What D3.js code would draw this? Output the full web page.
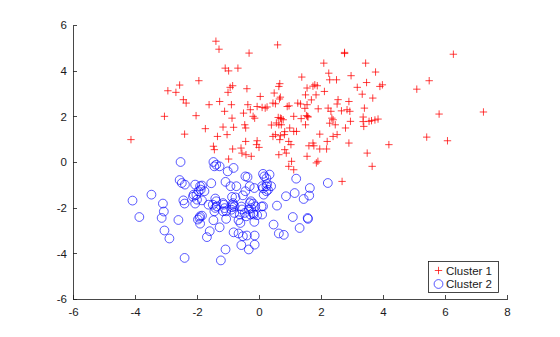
<!DOCTYPE html>
<html>
<head>
<meta charset="utf-8">
<script src="https://cdn.jsdelivr.net/npm/d3@7"></script>
<style>
  html, body { margin: 0; padding: 0; background: #fff; }
  svg { display: block; font-family: "Liberation Sans", Arial, Helvetica, sans-serif; }
  .axis text { font-size: 11.5px; fill: #1a1a1a; }
  .axis path, .axis line { stroke: #1a1a1a; stroke-width: 0.8; shape-rendering: crispEdges; }
</style>
</head>
<body>
<svg id="chart" width="560" height="337"></svg>
<script>
// Cluster 1 (red plus markers)
const cluster1X = [
  -4.13,-3.05,-2.94,-2.68,-2.56,-2.44,-2.35,-2.40,-2.03,-1.94,-1.73,-1.61,-1.39,-1.29,-1.47,-1.44,-1.34,-1.27,-1.16,-1.11,
  -1.09,-1.00,-0.98,-1.03,-0.98,-0.93,-0.89,-0.87,-0.85,-0.82,-0.85,-0.68,-0.58,-0.55,-0.50,-0.46,-0.43,-0.43,-0.42,-0.39,
  -0.36,-0.32,-0.28,-0.25,-0.19,-0.14,-0.06,0.00,0.04,-0.06,0.10,0.20,0.26,0.45,0.53,0.49,0.60,0.64,0.67,0.69,
  0.66,0.69,0.64,0.56,0.72,0.78,0.45,0.53,0.69,0.82,0.64,0.88,0.91,0.97,0.99,0.96,1.03,1.12,1.12,1.21,
  0.96,1.05,1.12,1.25,1.34,1.38,1.36,1.50,1.55,1.55,1.53,1.57,1.50,1.61,1.55,1.77,1.80,1.88,1.84,1.91,
  1.96,1.85,1.90,1.96,2.09,2.11,2.18,2.20,2.23,2.25,2.28,2.32,2.35,2.39,2.46,2.50,2.52,2.55,2.52,2.68,
  2.76,2.79,2.84,2.90,2.93,2.95,2.97,2.90,3.17,3.33,3.40,3.44,3.47,3.36,3.38,3.49,3.55,3.65,3.67,3.76,
  3.84,3.90,3.98,4.19,5.09,5.41,5.49,5.81,6.08,6.27,7.24,
  0.40,0.83,0.67,-0.08,0.83,1.74,1.69,1.48,2.66,2.28,3.63,3.74,3.36,2.39,1.74,2.76,0.72,0.62,1.58
];
const cluster1Y = [
  0.98,2.00,3.12,3.05,3.37,2.73,2.58,1.22,2.03,3.56,1.46,2.51,5.29,4.94,0.69,0.54,1.12,2.65,1.53,2.22,
  4.11,3.05,3.99,1.20,0.13,3.27,2.51,1.92,3.34,1.52,0.57,4.11,0.61,0.39,2.14,1.63,1.49,0.90,0.32,3.21,
  2.51,4.77,2.29,0.25,2.00,1.92,0.93,0.64,2.87,2.43,2.39,2.36,2.41,2.58,2.55,3.02,5.13,3.31,3.43,2.84,
  2.76,1.92,1.63,1.71,1.63,1.85,1.12,1.20,1.15,1.20,0.32,0.39,2.43,2.46,1.49,0.90,0.76,2.00,1.34,1.34,
  -0.19,0.03,-0.34,2.58,2.54,3.72,1.90,2.94,3.24,2.51,2.03,2.00,1.63,0.71,0.25,0.71,3.38,3.34,2.94,2.33,
  1.22,-0.04,0.03,0.57,4.33,3.09,0.57,0.90,2.36,3.89,3.60,2.22,1.92,1.85,1.63,3.60,2.54,2.73,1.20,-0.85,
  4.80,1.49,2.29,2.65,2.22,1.78,3.78,0.83,3.27,2.97,2.36,4.33,3.48,1.97,1.56,0.39,1.78,-0.19,2.80,3.94,
  1.88,3.31,3.38,0.76,3.19,1.09,3.56,2.10,0.93,4.72,2.19,
  1.62,1.33,0.98,0.76,0.54,3.32,2.72,2.35,2.24,1.70,1.81,1.84,1.77,1.12,0.83,4.75,1.90,1.95,1.97
];

// Cluster 2 (blue circle markers)
const cluster2X = [
  -4.08,-3.86,-3.47,-3.10,-3.07,-3.14,-3.05,-2.89,-2.60,-2.53,-2.56,-2.49,-2.39,-2.44,-2.40,-2.40,-2.11,-2.06,-2.06,-2.00,
  -1.95,-1.90,-1.88,-1.84,-1.76,-1.90,-1.92,-1.84,-1.90,-1.84,-1.68,-1.59,-1.63,-1.54,-1.47,-1.44,-1.38,-1.27,-1.41,-1.44,
  -1.41,-1.36,-1.47,-1.27,-1.23,-1.14,-1.08,-1.06,-1.06,-1.08,-1.01,-0.92,-0.87,-0.84,-0.87,-0.82,-0.82,-0.76,-0.73,-0.80,
  -0.66,-0.66,-0.60,-0.57,-0.55,-0.52,-0.44,-0.44,-0.37,-0.41,-0.39,-0.33,-0.33,-0.30,-0.28,-0.26,-0.19,-0.15,-0.14,-0.14,
  -0.15,-0.17,-0.06,-0.12,0.10,0.13,0.10,0.13,0.17,0.15,0.24,0.26,0.24,0.34,0.39,0.47,0.58,0.64,0.80,0.87,
  1.09,1.15,1.20,1.31,1.44,1.57,1.58,1.62,1.64,2.22,
  -2.02,-2.13,-1.38,-1.49,-1.16,-1.11,-1.16,-0.84,-0.79,-0.89,-0.57,-0.46,-0.62,-0.30,-0.25,-0.19,-0.52,-1.97,0.13,0.08,
  0.29,0.24
];
const cluster2Y = [
  -1.69,-2.41,-1.43,-1.82,-2.17,-2.45,-3.00,-3.35,-2.54,0.00,-0.79,-0.92,-0.99,-1.68,-1.82,-4.20,-1.43,-0.99,-1.82,-1.65,
  -1.28,-1.06,-1.21,-1.03,-1.28,-2.38,-2.45,-2.35,-2.70,-1.68,-3.29,-3.03,-1.87,-0.93,0.00,-0.19,-0.12,-0.19,-1.60,-2.16,
  -2.01,-1.94,-2.55,-2.86,-4.31,-1.87,-0.87,-2.16,-2.49,-3.83,-0.41,-1.06,-1.53,-1.87,-1.98,-0.26,-3.08,-1.55,-1.06,-2.23,
  -2.55,-3.13,-2.67,-3.64,-2.08,-1.46,-1.28,-0.63,-0.66,-2.38,-3.22,-3.83,-2.08,-1.06,-2.30,-1.72,-1.82,-1.14,-3.22,-3.62,
  -2.62,-2.30,-2.33,-1.94,-2.30,-1.94,-1.06,-0.52,-0.63,-1.43,-1.28,-0.96,-1.06,-0.55,-1.06,-2.74,-1.91,-3.13,-3.19,-1.50,
  -2.41,-1.36,-0.73,-2.89,-1.62,-2.45,-2.49,-1.47,-1.14,-0.92,
  -1.44,-1.52,-1.72,-1.87,-1.80,-2.02,-2.16,-1.80,-1.95,-2.09,-1.95,-2.23,-2.30,-1.80,-2.02,-2.23,-3.25,-2.52,-1.15,-1.95,
  -1.22,-0.71
];

const xTicks = [-6, -4, -2, 0, 2, 4, 6, 8];
const yTicks = [-6, -4, -2, 0, 2, 4, 6];
const legendLabels = ["Cluster 1", "Cluster 2"];

const svg = d3.select("#chart");
const margin = { left: 73, right: 53, top: 25, bottom: 38 };
const W = 560, H = 337;
const innerW = W - margin.left - margin.right;
const innerH = H - margin.top - margin.bottom;

const x = d3.scaleLinear().domain([-6, 8]).range([margin.left, margin.left + innerW]);
const y = d3.scaleLinear().domain([-6, 6]).range([margin.top + innerH, margin.top]);

const fmt = d => String(d);

// Axes: ticks point into the plot area
svg.append("g")
  .attr("class", "axis")
  .attr("transform", `translate(0,${margin.top + innerH})`)
  .call(d3.axisBottom(x).tickValues(xTicks).tickFormat(fmt).tickSizeInner(-4).tickSizeOuter(0).tickPadding(9));

svg.append("g")
  .attr("class", "axis")
  .attr("transform", `translate(${margin.left},0)`)
  .call(d3.axisLeft(y).tickValues(yTicks).tickFormat(fmt).tickSizeInner(-4).tickSizeOuter(0).tickPadding(6));

const plusSize = 3.7;
const circleR = 4.4;

function plusPath(s) {
  return `M${-s},0H${s}M0,${-s}V${s}`;
}

const c1 = cluster1X.map((v, i) => [v, cluster1Y[i]]);
const c2 = cluster2X.map((v, i) => [v, cluster2Y[i]]);

svg.append("g")
  .selectAll("path")
  .data(c1)
  .join("path")
  .attr("transform", d => `translate(${x(d[0])},${y(d[1])})`)
  .attr("d", plusPath(plusSize))
  .attr("fill", "none")
  .attr("stroke", "#ff0000")
  .attr("stroke-width", 0.75);

svg.append("g")
  .selectAll("circle")
  .data(c2)
  .join("circle")
  .attr("cx", d => x(d[0]))
  .attr("cy", d => y(d[1]))
  .attr("r", circleR)
  .attr("fill", "none")
  .attr("stroke", "#0000ff")
  .attr("stroke-width", 0.65);

// Legend (lower right)
const lg = svg.append("g").attr("transform", "translate(428.5,261.5)");
lg.append("rect")
  .attr("width", 70).attr("height", 31)
  .attr("fill", "#fff").attr("stroke", "#1a1a1a").attr("stroke-width", 0.8);

const rowY = [9, 22.5];
lg.append("path")
  .attr("transform", `translate(10,${rowY[0]})`)
  .attr("d", plusPath(plusSize))
  .attr("stroke", "#ff0000").attr("stroke-width", 0.75).attr("fill", "none");
lg.append("circle")
  .attr("cx", 10).attr("cy", rowY[1]).attr("r", circleR)
  .attr("stroke", "#0000ff").attr("stroke-width", 0.65).attr("fill", "none");

lg.selectAll("text.lbl")
  .data(legendLabels)
  .join("text")
  .attr("class", "lbl")
  .attr("x", 17.5)
  .attr("y", (d, i) => rowY[i])
  .attr("dy", "0.35em")
  .attr("font-size", "11.5px")
  .attr("fill", "#1a1a1a")
  .text(d => d);
</script>
</body>
</html>
